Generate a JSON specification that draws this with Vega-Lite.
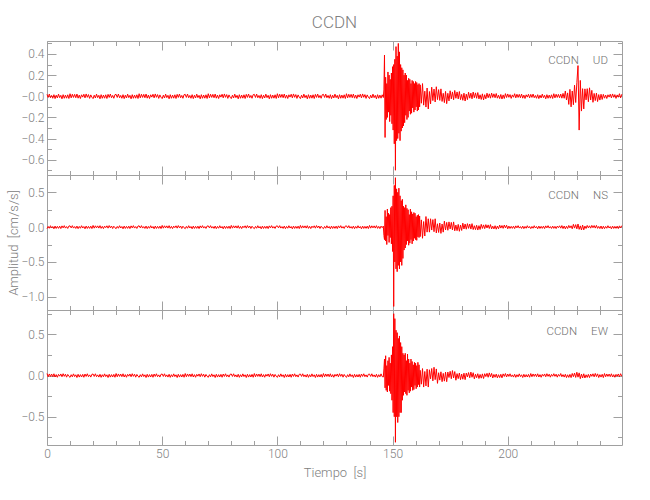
{
"$schema": "https://vega.github.io/schema/vega-lite/v6.json",
"background": "white",
"padding": {"left": 7, "top": 13, "right": 5, "bottom": 5},
"spacing": 0,
"bounds": "flush",
"config": {
 "view": {"stroke": "#a0a0a0", "strokeWidth": 1},
 "axis": {"domain": false, "grid": false, "tickColor": "#a0a0a0", "tickWidth": 1, "labelColor": "#808080", "labelFont": "Roboto", "labelFontWeight": 300, "labelFontSize": 12, "titleFont": "Roboto", "titleFontSize": 13, "titleFontWeight": 300, "titleColor": "#808080", "labelOverlap": false, "labelFlush": false, "minExtent": 0},
 "axisY": {"minExtent": 0},
 "axisX": {"minExtent": 0}
},
"datasets": {"s": [
{"t":0,"u":0.018,"n":-0.022,"e":0.024},{"t":0.5,"u":-0.011,"n":0.01,"e":-0.015},{"t":1,"u":0.021,"n":-0.016,"e":0.019},{"t":1.5,"u":-0.014,"n":0.02,"e":-0.011},{"t":2,"u":0.008,"n":-0.013,"e":0.018},{"t":2.5,"u":-0.019,"n":0.009,"e":-0.014},{"t":3,"u":0.015,"n":-0.024,"e":0.021},{"t":3.5,"u":-0.022,"n":0.015,"e":-0.018},{"t":4,"u":0.01,"n":-0.019,"e":0.011},{"t":4.5,"u":-0.016,"n":0.011,"e":-0.021},
{"t":5,"u":0.02,"n":-0.018,"e":0.014},{"t":5.5,"u":-0.013,"n":0.014,"e":-0.008},{"t":6,"u":0.009,"n":-0.021,"e":0.019},{"t":6.5,"u":-0.024,"n":0.018,"e":-0.015},{"t":7,"u":0.015,"n":-0.011,"e":0.022},{"t":7.5,"u":-0.019,"n":0.021,"e":-0.01},{"t":8,"u":0.011,"n":-0.014,"e":0.016},{"t":8.5,"u":-0.018,"n":0.008,"e":-0.02},{"t":9,"u":0.014,"n":-0.019,"e":0.013},{"t":9.5,"u":-0.021,"n":0.015,"e":-0.009},
{"t":10,"u":0.024,"n":0.018,"e":-0.022},{"t":10.5,"u":-0.015,"n":-0.011,"e":0.01},{"t":11,"u":0.019,"n":0.021,"e":-0.016},{"t":11.5,"u":-0.011,"n":-0.014,"e":0.02},{"t":12,"u":0.018,"n":0.008,"e":-0.013},{"t":12.5,"u":-0.014,"n":-0.019,"e":0.009},{"t":13,"u":0.021,"n":0.015,"e":-0.024},{"t":13.5,"u":-0.018,"n":-0.022,"e":0.015},{"t":14,"u":0.011,"n":0.01,"e":-0.019},{"t":14.5,"u":-0.021,"n":-0.016,"e":0.011},
{"t":15,"u":0.014,"n":0.02,"e":-0.018},{"t":15.5,"u":-0.008,"n":-0.013,"e":0.014},{"t":16,"u":0.019,"n":0.009,"e":-0.021},{"t":16.5,"u":-0.015,"n":-0.024,"e":0.018},{"t":17,"u":0.022,"n":0.015,"e":-0.011},{"t":17.5,"u":-0.01,"n":-0.019,"e":0.021},{"t":18,"u":0.016,"n":0.011,"e":-0.014},{"t":18.5,"u":-0.02,"n":-0.018,"e":0.008},{"t":19,"u":0.013,"n":0.014,"e":-0.019},{"t":19.5,"u":-0.009,"n":-0.021,"e":0.015},
{"t":20,"u":-0.022,"n":0.024,"e":0.018},{"t":20.5,"u":0.01,"n":-0.015,"e":-0.011},{"t":21,"u":-0.016,"n":0.019,"e":0.021},{"t":21.5,"u":0.02,"n":-0.011,"e":-0.014},{"t":22,"u":-0.013,"n":0.018,"e":0.008},{"t":22.5,"u":0.009,"n":-0.014,"e":-0.019},{"t":23,"u":-0.024,"n":0.021,"e":0.015},{"t":23.5,"u":0.015,"n":-0.018,"e":-0.022},{"t":24,"u":-0.019,"n":0.011,"e":0.01},{"t":24.5,"u":0.011,"n":-0.021,"e":-0.016},
{"t":25,"u":-0.018,"n":0.014,"e":0.02},{"t":25.5,"u":0.014,"n":-0.008,"e":-0.013},{"t":26,"u":-0.021,"n":0.019,"e":0.009},{"t":26.5,"u":0.018,"n":-0.015,"e":-0.024},{"t":27,"u":-0.011,"n":0.022,"e":0.015},{"t":27.5,"u":0.021,"n":-0.01,"e":-0.019},{"t":28,"u":-0.014,"n":0.016,"e":0.011},{"t":28.5,"u":0.008,"n":-0.02,"e":-0.018},{"t":29,"u":-0.019,"n":0.013,"e":0.014},{"t":29.5,"u":0.015,"n":-0.009,"e":-0.021},
{"t":30,"u":0.018,"n":-0.022,"e":0.024},{"t":30.5,"u":-0.011,"n":0.01,"e":-0.015},{"t":31,"u":0.021,"n":-0.016,"e":0.019},{"t":31.5,"u":-0.014,"n":0.02,"e":-0.011},{"t":32,"u":0.008,"n":-0.013,"e":0.018},{"t":32.5,"u":-0.019,"n":0.009,"e":-0.014},{"t":33,"u":0.015,"n":-0.024,"e":0.021},{"t":33.5,"u":-0.022,"n":0.015,"e":-0.018},{"t":34,"u":0.01,"n":-0.019,"e":0.011},{"t":34.5,"u":-0.016,"n":0.011,"e":-0.021},
{"t":35,"u":0.02,"n":-0.018,"e":0.014},{"t":35.5,"u":-0.013,"n":0.014,"e":-0.008},{"t":36,"u":0.009,"n":-0.021,"e":0.019},{"t":36.5,"u":-0.024,"n":0.018,"e":-0.015},{"t":37,"u":0.015,"n":-0.011,"e":0.022},{"t":37.5,"u":-0.019,"n":0.021,"e":-0.01},{"t":38,"u":0.011,"n":-0.014,"e":0.016},{"t":38.5,"u":-0.018,"n":0.008,"e":-0.02},{"t":39,"u":0.014,"n":-0.019,"e":0.013},{"t":39.5,"u":-0.021,"n":0.015,"e":-0.009},
{"t":40,"u":0.024,"n":0.018,"e":-0.022},{"t":40.5,"u":-0.015,"n":-0.011,"e":0.01},{"t":41,"u":0.019,"n":0.021,"e":-0.016},{"t":41.5,"u":-0.011,"n":-0.014,"e":0.02},{"t":42,"u":0.018,"n":0.008,"e":-0.013},{"t":42.5,"u":-0.014,"n":-0.019,"e":0.009},{"t":43,"u":0.021,"n":0.015,"e":-0.024},{"t":43.5,"u":-0.018,"n":-0.022,"e":0.015},{"t":44,"u":0.011,"n":0.01,"e":-0.019},{"t":44.5,"u":-0.021,"n":-0.016,"e":0.011},
{"t":45,"u":0.014,"n":0.02,"e":-0.018},{"t":45.5,"u":-0.008,"n":-0.013,"e":0.014},{"t":46,"u":0.019,"n":0.009,"e":-0.021},{"t":46.5,"u":-0.015,"n":-0.024,"e":0.018},{"t":47,"u":0.022,"n":0.015,"e":-0.011},{"t":47.5,"u":-0.01,"n":-0.019,"e":0.021},{"t":48,"u":0.016,"n":0.011,"e":-0.014},{"t":48.5,"u":-0.02,"n":-0.018,"e":0.008},{"t":49,"u":0.013,"n":0.014,"e":-0.019},{"t":49.5,"u":-0.009,"n":-0.021,"e":0.015},
{"t":50,"u":-0.022,"n":0.024,"e":0.018},{"t":50.5,"u":0.01,"n":-0.015,"e":-0.011},{"t":51,"u":-0.016,"n":0.019,"e":0.021},{"t":51.5,"u":0.02,"n":-0.011,"e":-0.014},{"t":52,"u":-0.013,"n":0.018,"e":0.008},{"t":52.5,"u":0.009,"n":-0.014,"e":-0.019},{"t":53,"u":-0.024,"n":0.021,"e":0.015},{"t":53.5,"u":0.015,"n":-0.018,"e":-0.022},{"t":54,"u":-0.019,"n":0.011,"e":0.01},{"t":54.5,"u":0.011,"n":-0.021,"e":-0.016},
{"t":55,"u":-0.018,"n":0.014,"e":0.02},{"t":55.5,"u":0.014,"n":-0.008,"e":-0.013},{"t":56,"u":-0.021,"n":0.019,"e":0.009},{"t":56.5,"u":0.018,"n":-0.015,"e":-0.024},{"t":57,"u":-0.011,"n":0.022,"e":0.015},{"t":57.5,"u":0.021,"n":-0.01,"e":-0.019},{"t":58,"u":-0.014,"n":0.016,"e":0.011},{"t":58.5,"u":0.008,"n":-0.02,"e":-0.018},{"t":59,"u":-0.019,"n":0.013,"e":0.014},{"t":59.5,"u":0.015,"n":-0.009,"e":-0.021},
{"t":60,"u":0.018,"n":-0.022,"e":0.024},{"t":60.5,"u":-0.011,"n":0.01,"e":-0.015},{"t":61,"u":0.021,"n":-0.016,"e":0.019},{"t":61.5,"u":-0.014,"n":0.02,"e":-0.011},{"t":62,"u":0.008,"n":-0.013,"e":0.018},{"t":62.5,"u":-0.019,"n":0.009,"e":-0.014},{"t":63,"u":0.015,"n":-0.024,"e":0.021},{"t":63.5,"u":-0.022,"n":0.015,"e":-0.018},{"t":64,"u":0.01,"n":-0.019,"e":0.011},{"t":64.5,"u":-0.016,"n":0.011,"e":-0.021},
{"t":65,"u":0.02,"n":-0.018,"e":0.014},{"t":65.5,"u":-0.013,"n":0.014,"e":-0.008},{"t":66,"u":0.009,"n":-0.021,"e":0.019},{"t":66.5,"u":-0.024,"n":0.018,"e":-0.015},{"t":67,"u":0.015,"n":-0.011,"e":0.022},{"t":67.5,"u":-0.019,"n":0.021,"e":-0.01},{"t":68,"u":0.011,"n":-0.014,"e":0.016},{"t":68.5,"u":-0.018,"n":0.008,"e":-0.02},{"t":69,"u":0.014,"n":-0.019,"e":0.013},{"t":69.5,"u":-0.021,"n":0.015,"e":-0.009},
{"t":70,"u":0.024,"n":0.018,"e":-0.022},{"t":70.5,"u":-0.015,"n":-0.011,"e":0.01},{"t":71,"u":0.019,"n":0.021,"e":-0.016},{"t":71.5,"u":-0.011,"n":-0.014,"e":0.02},{"t":72,"u":0.018,"n":0.008,"e":-0.013},{"t":72.5,"u":-0.014,"n":-0.019,"e":0.009},{"t":73,"u":0.021,"n":0.015,"e":-0.024},{"t":73.5,"u":-0.018,"n":-0.022,"e":0.015},{"t":74,"u":0.011,"n":0.01,"e":-0.019},{"t":74.5,"u":-0.021,"n":-0.016,"e":0.011},
{"t":75,"u":0.014,"n":0.02,"e":-0.018},{"t":75.5,"u":-0.008,"n":-0.013,"e":0.014},{"t":76,"u":0.019,"n":0.009,"e":-0.021},{"t":76.5,"u":-0.015,"n":-0.024,"e":0.018},{"t":77,"u":0.022,"n":0.015,"e":-0.011},{"t":77.5,"u":-0.01,"n":-0.019,"e":0.021},{"t":78,"u":0.016,"n":0.011,"e":-0.014},{"t":78.5,"u":-0.02,"n":-0.018,"e":0.008},{"t":79,"u":0.013,"n":0.014,"e":-0.019},{"t":79.5,"u":-0.009,"n":-0.021,"e":0.015},
{"t":80,"u":-0.022,"n":0.024,"e":0.018},{"t":80.5,"u":0.01,"n":-0.015,"e":-0.011},{"t":81,"u":-0.016,"n":0.019,"e":0.021},{"t":81.5,"u":0.02,"n":-0.011,"e":-0.014},{"t":82,"u":-0.013,"n":0.018,"e":0.008},{"t":82.5,"u":0.009,"n":-0.014,"e":-0.019},{"t":83,"u":-0.024,"n":0.021,"e":0.015},{"t":83.5,"u":0.015,"n":-0.018,"e":-0.022},{"t":84,"u":-0.019,"n":0.011,"e":0.01},{"t":84.5,"u":0.011,"n":-0.021,"e":-0.016},
{"t":85,"u":-0.018,"n":0.014,"e":0.02},{"t":85.5,"u":0.014,"n":-0.008,"e":-0.013},{"t":86,"u":-0.021,"n":0.019,"e":0.009},{"t":86.5,"u":0.018,"n":-0.015,"e":-0.024},{"t":87,"u":-0.011,"n":0.022,"e":0.015},{"t":87.5,"u":0.021,"n":-0.01,"e":-0.019},{"t":88,"u":-0.014,"n":0.016,"e":0.011},{"t":88.5,"u":0.008,"n":-0.02,"e":-0.018},{"t":89,"u":-0.019,"n":0.013,"e":0.014},{"t":89.5,"u":0.015,"n":-0.009,"e":-0.021},
{"t":90,"u":0.018,"n":-0.022,"e":0.024},{"t":90.5,"u":-0.011,"n":0.01,"e":-0.015},{"t":91,"u":0.021,"n":-0.016,"e":0.019},{"t":91.5,"u":-0.014,"n":0.02,"e":-0.011},{"t":92,"u":0.008,"n":-0.013,"e":0.018},{"t":92.5,"u":-0.019,"n":0.009,"e":-0.014},{"t":93,"u":0.015,"n":-0.024,"e":0.021},{"t":93.5,"u":-0.022,"n":0.015,"e":-0.018},{"t":94,"u":0.01,"n":-0.019,"e":0.011},{"t":94.5,"u":-0.016,"n":0.011,"e":-0.021},
{"t":95,"u":0.02,"n":-0.018,"e":0.014},{"t":95.5,"u":-0.013,"n":0.014,"e":-0.008},{"t":96,"u":0.009,"n":-0.021,"e":0.019},{"t":96.5,"u":-0.024,"n":0.018,"e":-0.015},{"t":97,"u":0.015,"n":-0.011,"e":0.022},{"t":97.5,"u":-0.019,"n":0.021,"e":-0.01},{"t":98,"u":0.011,"n":-0.014,"e":0.016},{"t":98.5,"u":-0.018,"n":0.008,"e":-0.02},{"t":99,"u":0.014,"n":-0.019,"e":0.013},{"t":99.5,"u":-0.021,"n":0.015,"e":-0.009},
{"t":100,"u":0.024,"n":0.018,"e":-0.022},{"t":100.5,"u":-0.015,"n":-0.011,"e":0.01},{"t":101,"u":0.019,"n":0.021,"e":-0.016},{"t":101.5,"u":-0.011,"n":-0.014,"e":0.02},{"t":102,"u":0.018,"n":0.008,"e":-0.013},{"t":102.5,"u":-0.014,"n":-0.019,"e":0.009},{"t":103,"u":0.021,"n":0.015,"e":-0.024},{"t":103.5,"u":-0.018,"n":-0.022,"e":0.015},{"t":104,"u":0.011,"n":0.01,"e":-0.019},{"t":104.5,"u":-0.021,"n":-0.016,"e":0.011},
{"t":105,"u":0.014,"n":0.02,"e":-0.018},{"t":105.5,"u":-0.008,"n":-0.013,"e":0.014},{"t":106,"u":0.019,"n":0.009,"e":-0.021},{"t":106.5,"u":-0.015,"n":-0.024,"e":0.018},{"t":107,"u":0.022,"n":0.015,"e":-0.011},{"t":107.5,"u":-0.01,"n":-0.019,"e":0.021},{"t":108,"u":0.016,"n":0.011,"e":-0.014},{"t":108.5,"u":-0.02,"n":-0.018,"e":0.008},{"t":109,"u":0.013,"n":0.014,"e":-0.019},{"t":109.5,"u":-0.009,"n":-0.021,"e":0.015},
{"t":110,"u":-0.022,"n":0.024,"e":0.018},{"t":110.5,"u":0.01,"n":-0.015,"e":-0.011},{"t":111,"u":-0.016,"n":0.019,"e":0.021},{"t":111.5,"u":0.02,"n":-0.011,"e":-0.014},{"t":112,"u":-0.013,"n":0.018,"e":0.008},{"t":112.5,"u":0.009,"n":-0.014,"e":-0.019},{"t":113,"u":-0.024,"n":0.021,"e":0.015},{"t":113.5,"u":0.015,"n":-0.018,"e":-0.022},{"t":114,"u":-0.019,"n":0.011,"e":0.01},{"t":114.5,"u":0.011,"n":-0.021,"e":-0.016},
{"t":115,"u":-0.018,"n":0.014,"e":0.02},{"t":115.5,"u":0.014,"n":-0.008,"e":-0.013},{"t":116,"u":-0.021,"n":0.019,"e":0.009},{"t":116.5,"u":0.018,"n":-0.015,"e":-0.024},{"t":117,"u":-0.011,"n":0.022,"e":0.015},{"t":117.5,"u":0.021,"n":-0.01,"e":-0.019},{"t":118,"u":-0.014,"n":0.016,"e":0.011},{"t":118.5,"u":0.008,"n":-0.02,"e":-0.018},{"t":119,"u":-0.019,"n":0.013,"e":0.014},{"t":119.5,"u":0.015,"n":-0.009,"e":-0.021},
{"t":120,"u":0.018,"n":-0.022,"e":0.024},{"t":120.5,"u":-0.011,"n":0.01,"e":-0.015},{"t":121,"u":0.021,"n":-0.016,"e":0.019},{"t":121.5,"u":-0.014,"n":0.02,"e":-0.011},{"t":122,"u":0.008,"n":-0.013,"e":0.018},{"t":122.5,"u":-0.019,"n":0.009,"e":-0.014},{"t":123,"u":0.015,"n":-0.024,"e":0.021},{"t":123.5,"u":-0.022,"n":0.015,"e":-0.018},{"t":124,"u":0.01,"n":-0.019,"e":0.011},{"t":124.5,"u":-0.016,"n":0.011,"e":-0.021},
{"t":125,"u":0.02,"n":-0.018,"e":0.014},{"t":125.5,"u":-0.013,"n":0.014,"e":-0.008},{"t":126,"u":0.009,"n":-0.021,"e":0.019},{"t":126.5,"u":-0.024,"n":0.018,"e":-0.015},{"t":127,"u":0.015,"n":-0.011,"e":0.022},{"t":127.5,"u":-0.019,"n":0.021,"e":-0.01},{"t":128,"u":0.011,"n":-0.014,"e":0.016},{"t":128.5,"u":-0.018,"n":0.008,"e":-0.02},{"t":129,"u":0.014,"n":-0.019,"e":0.013},{"t":129.5,"u":-0.021,"n":0.015,"e":-0.009},
{"t":130,"u":0.024,"n":0.018,"e":-0.022},{"t":130.5,"u":-0.015,"n":-0.011,"e":0.01},{"t":131,"u":0.019,"n":0.021,"e":-0.016},{"t":131.5,"u":-0.011,"n":-0.014,"e":0.02},{"t":132,"u":0.018,"n":0.008,"e":-0.013},{"t":132.5,"u":-0.014,"n":-0.019,"e":0.009},{"t":133,"u":0.021,"n":0.015,"e":-0.024},{"t":133.5,"u":-0.018,"n":-0.022,"e":0.015},{"t":134,"u":0.011,"n":0.01,"e":-0.019},{"t":134.5,"u":-0.021,"n":-0.016,"e":0.011},
{"t":135,"u":0.014,"n":0.02,"e":-0.018},{"t":135.5,"u":-0.008,"n":-0.013,"e":0.014},{"t":136,"u":0.019,"n":0.009,"e":-0.021},{"t":136.5,"u":-0.015,"n":-0.024,"e":0.018},{"t":137,"u":0.022,"n":0.015,"e":-0.011},{"t":137.5,"u":-0.01,"n":-0.019,"e":0.021},{"t":138,"u":0.016,"n":0.011,"e":-0.014},{"t":138.5,"u":-0.02,"n":-0.018,"e":0.008},{"t":139,"u":0.013,"n":0.014,"e":-0.019},{"t":139.5,"u":-0.009,"n":-0.021,"e":0.015},
{"t":140,"u":-0.022,"n":0.024,"e":0.018},{"t":140.5,"u":0.01,"n":-0.015,"e":-0.011},{"t":141,"u":-0.016,"n":0.019,"e":0.021},{"t":141.5,"u":0.02,"n":-0.011,"e":-0.014},{"t":142,"u":-0.013,"n":0.018,"e":0.008},{"t":142.5,"u":0.009,"n":-0.014,"e":-0.019},{"t":143,"u":-0.024,"n":0.021,"e":0.015},{"t":143.5,"u":0.015,"n":-0.018,"e":-0.022},{"t":144,"u":-0.019,"n":0.011,"e":0.01},{"t":144.5,"u":0.011,"n":-0.021,"e":-0.016},
{"t":145,"u":-0.018,"n":0.014,"e":0.02},{"t":145.5,"u":0.014,"n":-0.008,"e":-0.013},
{"t":146,"u":-0.012,"n":0.015,"e":-0.018},{"t":146.25,"u":0.06,"n":-0.12,"e":0.08},{"t":146.5,"u":0.39,"n":-0.18,"e":0.2},{"t":146.75,"u":-0.39,"n":0.24,"e":-0.15},
{"t":147,"u":0.18,"n":-0.2,"e":0.24},{"t":147.25,"u":-0.22,"n":0.15,"e":-0.18},{"t":147.5,"u":0.12,"n":-0.25,"e":0.12},{"t":147.75,"u":-0.2,"n":0.26,"e":-0.2},
{"t":148,"u":0.23,"n":-0.12,"e":0.18},{"t":148.25,"u":-0.15,"n":0.2,"e":-0.12},{"t":148.5,"u":0.2,"n":-0.22,"e":0.22},{"t":148.75,"u":-0.24,"n":0.18,"e":-0.19},
{"t":149,"u":0.16,"n":-0.15,"e":0.15},{"t":149.25,"u":-0.18,"n":0.28,"e":-0.22},{"t":149.5,"u":0.22,"n":-0.24,"e":0.25},{"t":149.75,"u":-0.26,"n":0.3,"e":-0.3},
{"t":150,"u":0.28,"n":-0.35,"e":0.35},{"t":150.25,"u":-0.32,"n":0.45,"e":-0.45},{"t":150.5,"u":0.3,"n":-1.14,"e":0.75},{"t":150.75,"u":-0.45,"n":0.6,"e":-0.5},
{"t":151,"u":0.35,"n":-0.5,"e":0.69},{"t":151.25,"u":-0.7,"n":0.71,"e":-0.81},{"t":151.5,"u":0.47,"n":-0.6,"e":0.55},{"t":151.75,"u":-0.42,"n":0.55,"e":-0.5},
{"t":152,"u":0.38,"n":-0.64,"e":0.52},{"t":152.25,"u":-0.4,"n":0.5,"e":-0.57},{"t":152.5,"u":0.5,"n":-0.55,"e":0.45},{"t":152.75,"u":-0.35,"n":0.56,"e":-0.5},
{"t":153,"u":0.42,"n":-0.6,"e":0.48},{"t":153.25,"u":-0.42,"n":0.45,"e":-0.45},{"t":153.5,"u":0.3,"n":-0.5,"e":0.4},{"t":153.75,"u":-0.33,"n":0.38,"e":-0.45},
{"t":154,"u":0.27,"n":-0.55,"e":0.35},{"t":154.25,"u":-0.3,"n":0.4,"e":-0.3},{"t":154.5,"u":0.25,"n":-0.45,"e":0.27},{"t":154.75,"u":-0.28,"n":0.3,"e":-0.24},
{"t":155,"u":0.2,"n":-0.33,"e":0.25},{"t":155.25,"u":-0.25,"n":0.28,"e":-0.2},{"t":155.5,"u":0.22,"n":-0.3,"e":0.27},{"t":155.75,"u":-0.18,"n":0.32,"e":-0.22},
{"t":156,"u":0.2,"n":-0.25,"e":0.18},{"t":156.25,"u":-0.22,"n":0.27,"e":-0.24},{"t":156.5,"u":0.15,"n":-0.2,"e":0.26},{"t":156.75,"u":-0.2,"n":0.25,"e":-0.18},
{"t":157,"u":0.17,"n":-0.26,"e":0.2},{"t":157.25,"u":-0.14,"n":0.18,"e":-0.21},{"t":157.5,"u":0.16,"n":-0.23,"e":0.15},{"t":157.75,"u":-0.17,"n":0.26,"e":-0.19},
{"t":158,"u":0.12,"n":-0.18,"e":0.2},{"t":158.25,"u":-0.16,"n":0.22,"e":-0.14},{"t":158.5,"u":0.15,"n":-0.24,"e":0.17},{"t":158.75,"u":-0.11,"n":0.19,"e":-0.18},
{"t":159,"u":0.14,"n":-0.2,"e":0.13},{"t":159.25,"u":-0.15,"n":0.21,"e":-0.17},{"t":159.5,"u":0.12,"n":-0.16,"e":0.16},{"t":159.75,"u":-0.13,"n":0.2,"e":-0.12},
{"t":160,"u":0.14,"n":-0.18,"e":0.15},{"t":160.25,"u":-0.1,"n":0.15,"e":-0.16},{"t":160.5,"u":0.13,"n":-0.19,"e":0.12},{"t":160.75,"u":-0.14,"n":0.17,"e":-0.14},
{"t":161,"u":0.11,"n":-0.14,"e":0.16},{"t":161.25,"u":-0.13,"n":0.18,"e":-0.11},{"t":161.5,"u":0.12,"n":-0.15,"e":0.13},{"t":161.75,"u":-0.1,"n":0.16,"e":-0.14},
{"t":162,"u":0.108,"n":-0.136,"e":0.063},{"t":162.5,"u":-0.066,"n":0.104,"e":-0.105},{"t":163,"u":0.12,"n":-0.16,"e":0.084},{"t":163.5,"u":-0.084,"n":0.08,"e":-0.14},
{"t":164,"u":0.048,"n":-0.128,"e":0.049},{"t":164.5,"u":-0.102,"n":0.152,"e":-0.126},{"t":165,"u":0.078,"n":-0.072,"e":0.077},{"t":165.5,"u":-0.12,"n":0.12,"e":-0.14},
{"t":166,"u":0.045,"n":-0.072,"e":0.07},{"t":166.5,"u":-0.072,"n":0.12,"e":-0.04},{"t":167,"u":0.086,"n":-0.042,"e":0.085},{"t":167.5,"u":-0.041,"n":0.108,"e":-0.065},
{"t":168,"u":0.068,"n":-0.066,"e":0.1},{"t":168.5,"u":-0.054,"n":0.12,"e":-0.05},{"t":169,"u":0.09,"n":-0.084,"e":0.08},{"t":169.5,"u":-0.032,"n":0.048,"e":-0.095},
{"t":170,"u":0.063,"n":-0.077,"e":0.034},{"t":170.5,"u":-0.039,"n":0.059,"e":-0.056},{"t":171,"u":0.07,"n":-0.09,"e":0.045},{"t":171.5,"u":-0.049,"n":0.045,"e":-0.075},
{"t":172,"u":0.028,"n":-0.072,"e":0.026},{"t":172.5,"u":-0.06,"n":0.086,"e":-0.068},{"t":173,"u":0.046,"n":-0.041,"e":0.041},{"t":173.5,"u":-0.07,"n":0.068,"e":-0.075},
{"t":174,"u":0.028,"n":-0.045,"e":0.042},{"t":174.5,"u":-0.044,"n":0.075,"e":-0.024},{"t":175,"u":0.052,"n":-0.026,"e":0.051},{"t":175.5,"u":-0.025,"n":0.068,"e":-0.039},
{"t":176,"u":0.041,"n":-0.041,"e":0.06},{"t":176.5,"u":-0.033,"n":0.075,"e":-0.03},{"t":177,"u":0.055,"n":-0.053,"e":0.048},{"t":177.5,"u":-0.019,"n":0.03,"e":-0.057},
{"t":178,"u":0.041,"n":-0.051,"e":0.023},{"t":178.5,"u":-0.025,"n":0.039,"e":-0.038},{"t":179,"u":0.045,"n":-0.06,"e":0.03},{"t":179.5,"u":-0.032,"n":0.03,"e":-0.05},
{"t":180,"u":0.018,"n":-0.048,"e":0.018},{"t":180.5,"u":-0.038,"n":0.057,"e":-0.045},{"t":181,"u":0.029,"n":-0.027,"e":0.028},{"t":181.5,"u":-0.045,"n":0.045,"e":-0.05},
{"t":182,"u":0.02,"n":-0.03,"e":0.029},{"t":182.5,"u":-0.032,"n":0.05,"e":-0.017},{"t":183,"u":0.038,"n":-0.018,"e":0.036},{"t":183.5,"u":-0.018,"n":0.045,"e":-0.027},
{"t":184,"u":0.03,"n":-0.028,"e":0.042},{"t":184.5,"u":-0.024,"n":0.05,"e":-0.021},{"t":185,"u":0.04,"n":-0.035,"e":0.034},{"t":185.5,"u":-0.014,"n":0.02,"e":-0.04},
{"t":186,"u":0.032,"n":-0.036,"e":0.016},{"t":186.5,"u":-0.019,"n":0.027,"e":-0.027},{"t":187,"u":0.035,"n":-0.042,"e":0.022},{"t":187.5,"u":-0.025,"n":0.021,"e":-0.036},
{"t":188,"u":0.014,"n":-0.034,"e":0.013},{"t":188.5,"u":-0.03,"n":0.04,"e":-0.032},{"t":189,"u":0.023,"n":-0.019,"e":0.02},{"t":189.5,"u":-0.035,"n":0.032,"e":-0.036},
{"t":190,"u":0.015,"n":-0.022,"e":0.022},{"t":190.5,"u":-0.024,"n":0.036,"e":-0.013},{"t":191,"u":0.029,"n":-0.013,"e":0.027},{"t":191.5,"u":-0.014,"n":0.032,"e":-0.021},
{"t":192,"u":0.023,"n":-0.02,"e":0.032},{"t":192.5,"u":-0.018,"n":0.036,"e":-0.016},{"t":193,"u":0.03,"n":-0.025,"e":0.026},{"t":193.5,"u":-0.011,"n":0.014,"e":-0.03},
{"t":194,"u":0.023,"n":-0.026,"e":0.013},{"t":194.5,"u":-0.014,"n":0.02,"e":-0.021},{"t":195,"u":0.026,"n":-0.03,"e":0.017},{"t":195.5,"u":-0.018,"n":0.015,"e":-0.028},
{"t":196,"u":0.01,"n":-0.024,"e":0.01},{"t":196.5,"u":-0.022,"n":0.029,"e":-0.025},{"t":197,"u":0.017,"n":-0.014,"e":0.015},{"t":197.5,"u":-0.026,"n":0.023,"e":-0.028},
{"t":198,"u":0.013,"n":-0.018,"e":0.02},{"t":198.5,"u":-0.021,"n":0.03,"e":-0.011},{"t":199,"u":0.025,"n":-0.011,"e":0.024},{"t":199.5,"u":-0.012,"n":0.027,"e":-0.018},
{"t":200,"u":0.022,"n":-0.024,"e":0.018},{"t":200.5,"u":-0.01,"n":0.015,"e":-0.011},{"t":201,"u":0.016,"n":-0.019,"e":0.021},{"t":201.5,"u":-0.02,"n":0.011,"e":-0.014},{"t":202,"u":0.013,"n":-0.018,"e":0.008},{"t":202.5,"u":-0.009,"n":0.014,"e":-0.019},{"t":203,"u":0.024,"n":-0.021,"e":0.015},{"t":203.5,"u":-0.015,"n":0.018,"e":-0.022},{"t":204,"u":0.019,"n":-0.011,"e":0.01},{"t":204.5,"u":-0.011,"n":0.021,"e":-0.016},
{"t":205,"u":0.018,"n":-0.014,"e":0.02},{"t":205.5,"u":-0.014,"n":0.008,"e":-0.013},{"t":206,"u":0.021,"n":-0.019,"e":0.009},{"t":206.5,"u":-0.018,"n":0.015,"e":-0.024},{"t":207,"u":0.011,"n":-0.022,"e":0.015},{"t":207.5,"u":-0.021,"n":0.01,"e":-0.019},{"t":208,"u":0.014,"n":-0.016,"e":0.011},{"t":208.5,"u":-0.008,"n":0.02,"e":-0.018},{"t":209,"u":0.019,"n":-0.013,"e":0.014},{"t":209.5,"u":-0.015,"n":0.009,"e":-0.021},
{"t":210,"u":0.018,"n":-0.022,"e":0.024},{"t":210.5,"u":-0.011,"n":0.01,"e":-0.015},{"t":211,"u":0.021,"n":-0.016,"e":0.019},{"t":211.5,"u":-0.014,"n":0.02,"e":-0.011},{"t":212,"u":0.008,"n":-0.013,"e":0.018},{"t":212.5,"u":-0.019,"n":0.009,"e":-0.014},{"t":213,"u":0.015,"n":-0.024,"e":0.021},{"t":213.5,"u":-0.022,"n":0.015,"e":-0.018},{"t":214,"u":0.01,"n":-0.019,"e":0.011},{"t":214.5,"u":-0.016,"n":0.011,"e":-0.021},
{"t":215,"u":0.02,"n":-0.018,"e":0.014},{"t":215.5,"u":-0.013,"n":0.014,"e":-0.008},{"t":216,"u":0.009,"n":-0.021,"e":0.019},{"t":216.5,"u":-0.024,"n":0.018,"e":-0.015},{"t":217,"u":0.015,"n":-0.011,"e":0.022},{"t":217.5,"u":-0.019,"n":0.021,"e":-0.01},{"t":218,"u":0.011,"n":-0.014,"e":0.016},{"t":218.5,"u":-0.018,"n":0.008,"e":-0.02},{"t":219,"u":0.014,"n":-0.019,"e":0.013},{"t":219.5,"u":-0.021,"n":0.015,"e":-0.009},
{"t":220,"u":0.024,"n":-0.018,"e":0.022},{"t":220.5,"u":-0.015,"n":0.011,"e":-0.01},{"t":221,"u":0.019,"n":-0.021,"e":0.016},{"t":221.5,"u":-0.011,"n":0.014,"e":-0.02},{"t":222,"u":0.018,"n":-0.008,"e":0.013},{"t":222.5,"u":-0.014,"n":0.019,"e":-0.009},{"t":223,"u":0.021,"n":-0.015,"e":0.024},{"t":223.5,"u":-0.018,"n":0.022,"e":-0.015},
{"t":224,"u":0.027,"n":-0.021,"e":0.011},{"t":224.5,"u":-0.019,"n":0.016,"e":-0.019},{"t":225,"u":0.05,"n":-0.025,"e":0.015},{"t":225.5,"u":-0.035,"n":0.013,"e":-0.025},
{"t":226,"u":0.032,"n":-0.02,"e":0.009},{"t":226.5,"u":-0.077,"n":0.024,"e":-0.023},{"t":227,"u":0.065,"n":-0.011,"e":0.014},{"t":227.5,"u":-0.1,"n":0.019,"e":-0.025},
{"t":228,"u":0.05,"n":-0.024,"e":0.025},{"t":228.5,"u":-0.08,"n":0.04,"e":-0.014},{"t":229,"u":0.105,"n":-0.014,"e":0.03},{"t":229.5,"u":-0.059,"n":0.036,"e":-0.023},
{"t":230,"u":0.128,"n":-0.025,"e":0.04},{"t":230.5,"u":0.29,"n":0.045,"e":-0.02},{"t":231,"u":-0.32,"n":-0.032,"e":0.032},{"t":231.5,"u":0.15,"n":0.018,"e":-0.038},
{"t":232,"u":-0.14,"n":-0.041,"e":0.018},{"t":232.5,"u":0.072,"n":0.029,"e":-0.03},{"t":233,"u":-0.12,"n":-0.04,"e":0.021},{"t":233.5,"u":0.07,"n":0.015,"e":-0.03},
{"t":234,"u":-0.034,"n":-0.02,"e":0.009},{"t":234.5,"u":0.072,"n":0.024,"e":-0.023},{"t":235,"u":-0.052,"n":-0.011,"e":0.014},{"t":235.5,"u":0.08,"n":0.019,"e":-0.025},
{"t":236,"u":-0.035,"n":-0.015,"e":0.018},{"t":236.5,"u":0.056,"n":0.025,"e":-0.01},{"t":237,"u":-0.057,"n":-0.009,"e":0.021},{"t":237.5,"u":0.027,"n":0.023,"e":-0.016},
{"t":238,"u":-0.041,"n":-0.014,"e":0.025},{"t":238.5,"u":0.03,"n":0.025,"e":-0.013},{"t":239,"u":-0.05,"n":-0.018,"e":0.02},{"t":239.5,"u":0.016,"n":0.01,"e":-0.024},
{"t":240,"u":-0.036,"n":-0.021,"e":0.011},{"t":240.5,"u":0.019,"n":0.016,"e":-0.019},{"t":241,"u":-0.03,"n":-0.025,"e":0.015},{"t":241.5,"u":0.018,"n":0.013,"e":-0.025},
{"t":242,"u":-0.018,"n":-0.022,"e":0.024},{"t":242.5,"u":0.011,"n":0.01,"e":-0.015},{"t":243,"u":-0.021,"n":-0.016,"e":0.019},{"t":243.5,"u":0.014,"n":0.02,"e":-0.011},{"t":244,"u":-0.008,"n":-0.013,"e":0.018},{"t":244.5,"u":0.019,"n":0.009,"e":-0.014},{"t":245,"u":-0.015,"n":-0.024,"e":0.021},{"t":245.5,"u":0.022,"n":0.015,"e":-0.018},
{"t":246,"u":-0.01,"n":-0.019,"e":0.011},{"t":246.5,"u":0.016,"n":0.011,"e":-0.021},{"t":247,"u":-0.02,"n":-0.018,"e":0.014},{"t":247.5,"u":0.013,"n":0.014,"e":-0.008},{"t":248,"u":-0.009,"n":-0.021,"e":0.019},{"t":248.5,"u":0.024,"n":0.018,"e":-0.015},{"t":249,"u":-0.015,"n":-0.011,"e":0.022},{"t":249.5,"u":0.019,"n":0.021,"e":-0.01}
]},
"vconcat": [
 {
  "width": 575, "height": 134,
  "title": {"text": "CCDN", "frame": "group", "anchor": "middle", "fontSize": 17, "font": "Roboto", "fontWeight": 300, "color": "#808080", "offset": 5},
  "layer": [
   {"data": {"name": "s"}, "mark": {"type": "line", "color": "#ff0000", "strokeWidth": 1},
    "encoding": {
     "x": {"field": "t", "type": "quantitative", "scale": {"domain": [0, 249.6], "nice": false, "zero": false},
           "axis": {"values": [0,10,20,30,40,50,60,70,80,90,100,110,120,130,140,150,160,170,180,190,200,210,220,230,240], "labels": false, "title": null, "orient": "bottom",
                    "tickSize": {"condition": {"test": "datum.value % 50 === 0", "value": -9}, "value": -4.5}}},
     "y": {"field": "u", "type": "quantitative", "scale": {"domain": [-0.745, 0.523], "nice": false, "zero": false},
           "axis": {"values": [-0.7,-0.6,-0.5,-0.4,-0.3,-0.2,-0.1,0,0.1,0.2,0.3,0.4,0.5], "title": null, "orient": "left", "labelPadding": 12,
                    "labelExpr": "indexof([-0.6,-0.4,-0.2,0.2,0.4], datum.value) >= 0 ? format(datum.value, '.1f') : (datum.value === 0 ? '\u22120.0' : '')",
                    "tickSize": {"condition": {"test": "indexof([-0.6,-0.4,-0.2,0,0.2,0.4], datum.value) >= 0", "value": -9}, "value": -4.5}}}
    }},
   {"data": {"values": [{"lab": "CCDN\u00a0\u00a0\u00a0\u00a0\u00a0UD"}]},
    "mark": {"type": "text", "align": "right", "baseline": "middle", "font": "Roboto", "fontWeight": 300, "fontSize": 11.5, "color": "#707070"},
    "encoding": {
     "x": {"datum": 243.5, "type": "quantitative",
           "axis": {"values": [0,10,20,30,40,50,60,70,80,90,100,110,120,130,140,150,160,170,180,190,200,210,220,230,240], "labels": false, "title": null, "orient": "top",
                    "tickSize": {"condition": {"test": "datum.value % 50 === 0", "value": -9}, "value": -4.5}}},
     "y": {"datum": 0.331, "type": "quantitative",
           "axis": {"values": [-0.7,-0.6,-0.5,-0.4,-0.3,-0.2,-0.1,0,0.1,0.2,0.3,0.4,0.5], "labels": false, "title": null, "orient": "right",
                    "tickSize": {"condition": {"test": "indexof([-0.6,-0.4,-0.2,0,0.2,0.4], datum.value) >= 0", "value": -9}, "value": -4.5}}},
     "text": {"field": "lab"}
    }}
  ],
  "resolve": {"axis": {"x": "independent", "y": "independent"}}
 },
 {
  "width": 575, "height": 135,
  "layer": [
   {"data": {"name": "s"}, "mark": {"type": "line", "color": "#ff0000", "strokeWidth": 1},
    "encoding": {
     "x": {"field": "t", "type": "quantitative", "scale": {"domain": [0, 249.6], "nice": false, "zero": false},
           "axis": {"values": [0,10,20,30,40,50,60,70,80,90,100,110,120,130,140,150,160,170,180,190,200,210,220,230,240], "labels": false, "title": null, "orient": "bottom",
                    "tickSize": {"condition": {"test": "datum.value % 50 === 0", "value": -9}, "value": -4.5}}},
     "y": {"field": "n", "type": "quantitative", "scale": {"domain": [-1.191, 0.749], "nice": false, "zero": false},
           "axis": {"values": [-1,-0.75,-0.5,-0.25,0,0.25,0.5], "title": "Amplitud\u00a0\u00a0[cm/s/s]", "titlePadding": 0, "orient": "left", "labelPadding": 12,
                    "labelExpr": "datum.value % 0.5 === 0 ? format(datum.value, '.1f') : ''",
                    "tickSize": {"condition": {"test": "datum.value % 0.5 === 0", "value": -9}, "value": -4.5}}}
    }},
   {"data": {"values": [{"lab": "CCDN\u00a0\u00a0\u00a0\u00a0\u00a0NS"}]},
    "mark": {"type": "text", "align": "right", "baseline": "middle", "font": "Roboto", "fontWeight": 300, "fontSize": 11.5, "color": "#707070"},
    "encoding": {
     "x": {"datum": 243.5, "type": "quantitative",
           "axis": {"values": [0,10,20,30,40,50,60,70,80,90,100,110,120,130,140,150,160,170,180,190,200,210,220,230,240], "labels": false, "title": null, "orient": "top",
                    "tickSize": {"condition": {"test": "datum.value % 50 === 0", "value": -9}, "value": -4.5}}},
     "y": {"datum": 0.45, "type": "quantitative",
           "axis": {"values": [-1,-0.75,-0.5,-0.25,0,0.25,0.5], "labels": false, "title": null, "orient": "right",
                    "tickSize": {"condition": {"test": "datum.value % 0.5 === 0", "value": -9}, "value": -4.5}}},
     "text": {"field": "lab"}
    }}
  ],
  "resolve": {"axis": {"x": "independent", "y": "independent"}}
 },
 {
  "width": 575, "height": 135,
  "layer": [
   {"data": {"name": "s"}, "mark": {"type": "line", "color": "#ff0000", "strokeWidth": 1},
    "encoding": {
     "x": {"field": "t", "type": "quantitative", "scale": {"domain": [0, 249.6], "nice": false, "zero": false},
           "axis": {"values": [0,10,20,30,40,50,60,70,80,90,100,110,120,130,140,150,160,170,180,190,200,210,220,230,240], "title": "Tiempo\u00a0\u00a0[s]", "titlePadding": 3, "orient": "bottom", "labelPadding": 12,
                    "labelExpr": "datum.value % 50 === 0 ? datum.label : ''",
                    "tickSize": {"condition": {"test": "datum.value % 50 === 0", "value": -9}, "value": -4.5}}},
     "y": {"field": "e", "type": "quantitative", "scale": {"domain": [-0.843, 0.795], "nice": false, "zero": false},
           "axis": {"values": [-0.75,-0.5,-0.25,0,0.25,0.5,0.75], "title": null, "orient": "left", "labelPadding": 12,
                    "labelExpr": "datum.value % 0.5 === 0 ? format(datum.value, '.1f') : ''",
                    "tickSize": {"condition": {"test": "datum.value % 0.5 === 0", "value": -9}, "value": -4.5}}}
    }},
   {"data": {"values": [{"lab": "CCDN\u00a0\u00a0\u00a0\u00a0\u00a0EW"}]},
    "mark": {"type": "text", "align": "right", "baseline": "middle", "font": "Roboto", "fontWeight": 300, "fontSize": 11.5, "color": "#707070"},
    "encoding": {
     "x": {"datum": 243.5, "type": "quantitative",
           "axis": {"values": [0,10,20,30,40,50,60,70,80,90,100,110,120,130,140,150,160,170,180,190,200,210,220,230,240], "labels": false, "title": null, "orient": "top",
                    "tickSize": {"condition": {"test": "datum.value % 50 === 0", "value": -9}, "value": -4.5}}},
     "y": {"datum": 0.534, "type": "quantitative",
           "axis": {"values": [-0.75,-0.5,-0.25,0,0.25,0.5,0.75], "labels": false, "title": null, "orient": "right",
                    "tickSize": {"condition": {"test": "datum.value % 0.5 === 0", "value": -9}, "value": -4.5}}},
     "text": {"field": "lab"}
    }}
  ],
  "resolve": {"axis": {"x": "independent", "y": "independent"}}
 }
]
}
